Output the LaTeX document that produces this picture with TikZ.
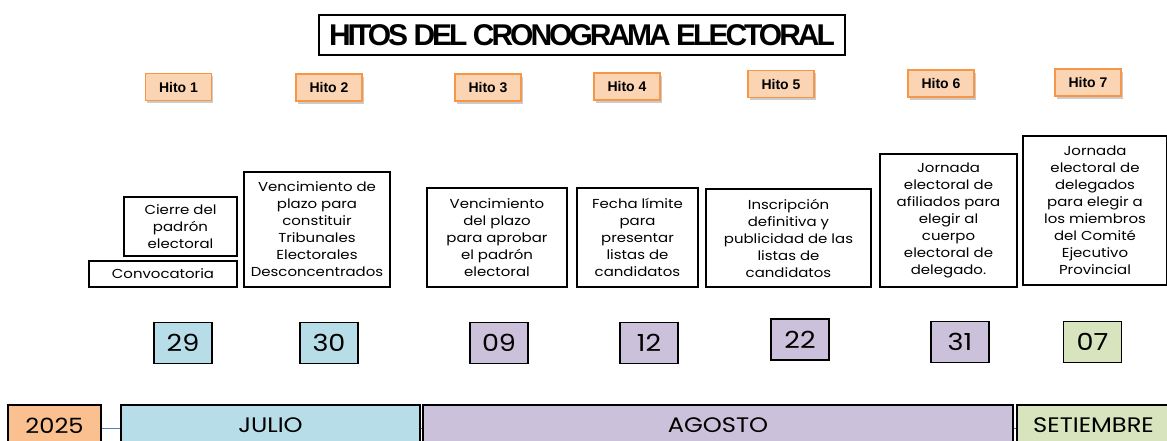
\documentclass[tikz,border=0pt]{standalone}
\usepackage{fontspec}
\setmainfont{Poppins}[FakeStretch=1.15]
\newfontfamily\arialf{Liberation Sans}
\newfontfamily\titlef[LetterSpace=-10]{Liberation Sans}
\usetikzlibrary{shadows}
\definecolor{peach}{HTML}{FBD4B4}
\definecolor{peachedge}{HTML}{F79646}
\definecolor{julblue}{HTML}{B7DEE8}
\definecolor{agolav}{HTML}{CCC1DA}
\definecolor{setgreen}{HTML}{D7E4BD}
\definecolor{yearorange}{HTML}{FAC090}
\definecolor{tlblue}{HTML}{4F81BD}
\begin{document}
\begin{tikzpicture}[x=1pt,y=-1pt,
  titlebox/.style={draw=black, line width=1.8pt, inner sep=0pt, minimum width=526, minimum height=40,
    font=\titlef\bfseries\fontsize{30}{32}\selectfont},
  hitobox/.style={draw=peachedge, line width=1.2pt, fill=peach, inner sep=0pt, minimum width=66, minimum height=27,
    font=\arialf\bfseries\fontsize{14}{16}\selectfont,
    drop shadow={shadow xshift=1.5pt, shadow yshift=-3pt, opacity=0.4, fill=gray}},
  descbox/.style={draw=black, line width=1.6pt, inner sep=0pt, align=center,
    font=\fontsize{13}{17}\selectfont},
  datebox/.style={draw=black, line width=1.4pt, inner sep=0pt, minimum width=58, minimum height=41,
    font=\fontsize{23.5}{26}\selectfont},
  monthbox/.style={draw=black, line width=1.4pt, inner sep=0pt, minimum height=46,
    font=\fontsize{21}{23}\selectfont},
  tlline/.style={draw=tlblue, line width=0.8pt}]
\useasboundingbox (0,0) rectangle (1167,441);
\clip (0,0) rectangle (1167,441);

% title
\node[titlebox] (title) at (582,35) {HITOS DEL CRONOGRAMA ELECTORAL};

% hitos
\node[hitobox] (h1) at (178.5,87) {Hito 1};
\node[hitobox] (h2) at (329,87.5) {Hito 2};
\node[hitobox] (h3) at (488,87.5) {Hito 3};
\node[hitobox] (h4) at (627,86.5) {Hito 4};
\node[hitobox] (h5) at (781,84) {Hito 5};
\node[hitobox] (h6) at (941,83.5) {Hito 6};
\node[hitobox] (h7) at (1088,82.5) {Hito 7};

% descriptions
\node[descbox, minimum width=148, minimum height=26] (conv) at (163,274) {Convocatoria};
\node[descbox, minimum width=113, minimum height=59] (cierre) at (180.5,226.5) {Cierre del\\padrón\\electoral};
\node[descbox, minimum width=146, minimum height=115] (venc1) at (317,229.5) {Vencimiento de\\plazo para\\constituir\\Tribunales\\Electorales\\Desconcentrados};
\node[descbox, minimum width=140, minimum height=99] (venc2) at (497,237.5) {Vencimiento\\del plazo\\para aprobar\\el padrón\\electoral};
\node[descbox, minimum width=121, minimum height=99] (fecha) at (637.5,237.5) {Fecha límite\\para\\presentar\\listas de\\candidatos};
\node[descbox, minimum width=165, minimum height=98] (inscr) at (788.5,238) {Inscripción\\definitiva y\\publicidad de las\\listas de\\candidatos};
\node[descbox, minimum width=137, minimum height=133] (jorn1) at (948.5,220.5) {Jornada\\electoral de\\afiliados para\\elegir al\\cuerpo\\electoral de\\delegado.};
\node[descbox, minimum width=144, minimum height=149] (jorn2) at (1095,210.5) {Jornada\\electoral de\\delegados\\para elegir a\\los miembros\\del Comité\\Ejecutivo\\Provincial};

% dates
\node[datebox, fill=julblue] (d29) at (183,343) {29};
\node[datebox, fill=julblue] (d30) at (329,343) {30};
\node[datebox, fill=agolav] (d09) at (499,343) {09};
\node[datebox, fill=agolav] (d12) at (649,343) {12};
\node[datebox, fill=agolav] (d22) at (800,339.5) {22};
\node[datebox, fill=agolav] (d31) at (960,342) {31};
\node[datebox, fill=setgreen] (d07) at (1092.5,342) {07};

% timeline
\node[monthbox, fill=yearorange, minimum width=93] (year) at (54.5,428) {\raisebox{5pt}{2025}};
\node[monthbox, fill=julblue, minimum width=299] (julio) at (270.5,428) {\raisebox{5pt}{JULIO}};
\node[monthbox, fill=agolav, minimum width=590] (agosto) at (718,428) {\raisebox{5pt}{AGOSTO}};
\node[monthbox, fill=setgreen, minimum width=153] (setiembre) at (1093.5,428) {\raisebox{5pt}{SETIEMBRE}};
\draw[tlline] (year.east) -- (julio.west);
\draw[tlline] (julio.east) -- (agosto.west);
\draw[tlline] (agosto.east) -- (setiembre.west);
\end{tikzpicture}
\end{document}
